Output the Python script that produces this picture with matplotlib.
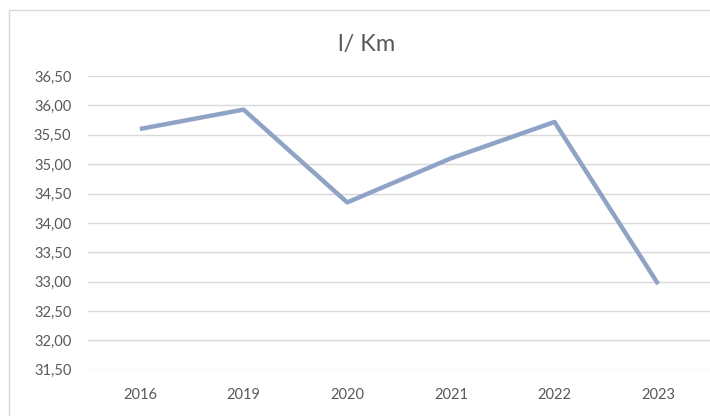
import matplotlib.pyplot as plt
from matplotlib.patches import Rectangle
from matplotlib.ticker import FuncFormatter

years = ['2016', '2019', '2020', '2021', '2022', '2023']
l_km = [35.60, 35.93, 34.35, 35.10, 35.72, 32.96]
y_ticks = [31.5, 32.0, 32.5, 33.0, 33.5, 34.0, 34.5, 35.0, 35.5, 36.0, 36.5]

plt.rcParams['font.family'] = ['Lato', 'DejaVu Sans']

fig = plt.figure(figsize=(7.1, 4.16), dpi=100)
ax = fig.add_axes([0.124, 0.111, 0.876, 0.706])

# chart area border
fig.patches.append(Rectangle((0.012, -0.1), 1.2, 1.076, transform=fig.transFigure,
                             fill=False, edgecolor='#d9d9d9', linewidth=1))

x = range(len(years))
ax.plot(x, l_km, color='#8fa3c7', linewidth=3.2, solid_capstyle='butt')

ax.set_xlim(-0.5, len(years) - 0.5)
ax.set_ylim(31.5, 36.5)
ax.set_yticks(y_ticks)
ax.yaxis.set_major_formatter(FuncFormatter(lambda v, p: f'{v:.2f}'.replace('.', ',')))
ax.set_xticks(list(x))
ax.set_xticklabels(years)
ax.grid(axis='y', color='#d9d9d9', linewidth=1)
ax.set_axisbelow(True)
for s in ax.spines.values():
    s.set_visible(False)
ax.tick_params(length=0, labelsize=10.5, labelcolor='#595959')
ax.tick_params(axis='y', pad=12)
ax.tick_params(axis='x', pad=13)

fig.text(0.517, 0.894, 'l/ Km', ha='center', va='center', fontsize=17, color='#595959')

fig.savefig('out.png', dpi=100)
